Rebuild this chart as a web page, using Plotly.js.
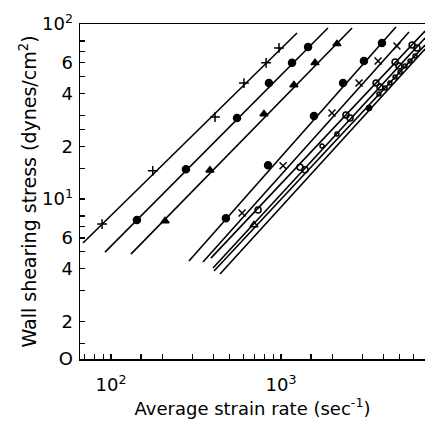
<!DOCTYPE html>
<html>
<head>
<meta charset="utf-8">
<script src="https://cdn.plot.ly/plotly-3.0.1.min.js"></script>
<style>html,body{margin:0;padding:0;background:#fff;}#chart{width:427px;height:421px;}</style>
</head>
<body>
<div id="chart"></div>
<script>
// ---- data (strain rate in sec^-1, stress in dynes/cm^2) ----
const seriesA_x = [88.6, 176, 409, 605, 817, 973];
const seriesA_y = [7.2, 14.5, 29.4, 46, 60, 73];
const fitA_x = [68.4, 1242];
const fitA_y = [5.61, 88.9];

const seriesB_x = [142, 276, 551, 849, 1161, 1443];
const seriesB_y = [7.6, 14.8, 29.0, 46, 60, 74];
const fitB_x = [92.2, 1888];
const fitB_y = [4.98, 94.9];

const seriesC_x = [208, 382, 794, 1191, 1585, 2133];
const seriesC_y = [7.5, 14.6, 30.6, 44.8, 60, 77];
const fitC_x = [131, 2618];
const fitC_y = [4.85, 94.9];

const seriesD_x = [474, 839, 1563, 2317, 3076, 3926];
const seriesD_y = [7.78, 15.6, 29.8, 46.0, 61.5, 77.8];
const fitD_x = [287.5, 4742];
const fitD_y = [4.43, 96.1];

const seriesE_x = [590, 1028, 1995, 2877, 3724, 4808];
const seriesE_y = [8.32, 15.5, 31.0, 46.0, 61.5, 74.8];
const fitE_x = [347.6, 5662];
const fitE_y = [4.37, 90.0];

const seriesF_x = [733, 1294, 2410, 3622, 4688, 5904];
const seriesF_y = [8.65, 15.2, 30.2, 46.0, 60.7, 75.9];
const fitF_x = [387, 7030];
const fitF_y = [4.6, 91.2];

const seriesG_x = [1383, 2547, 3819, 4946, 6310];
const seriesG_y = [14.7, 29.0, 43.6, 57.5, 72.9];
const seriesGtri_x = [693];
const seriesGtri_y = [7.1];
const fitG_x = [398, 7030];
const fitG_y = [4.04, 83.2];

const seriesH_x = [1742, 2133, 3767, 4093, 4375, 4688, 5012, 5361, 5741, 6138];
const seriesH_y = [20.1, 23.5, 39.8, 43.1, 46.0, 49.8, 53.2, 57.5, 61.5, 65.6];
const seriesHdot_x = [3296];
const seriesHdot_y = [33.1];
const fitH_x = [403.6, 7030];
const fitH_y = [3.88, 75.9];

const fitI_x = [437.7, 7030];
const fitI_y = [3.73, 71.9];

// axis ticks
const xTickVals = [70, 80, 90, 100, 150, 200, 300, 400, 500, 600, 700, 800, 900, 1000, 1500, 2000, 3000, 4000, 5000, 6000, 7000];
const xTickText = ['', '', '', '10<sup>2</sup>', '', '', '', '', '', '', '', '', '', '10<sup>3</sup>', '', '', '', '', '', '', ''];
const yTickVals = [1.22, 1.5, 2, 3, 4, 5, 6, 7, 8, 10, 15, 20, 25, 30, 40, 50, 60, 70, 80, 100];
const yTickText = ['O', '', '2', '', '4', '', '6', '', '', '10<sup>1</sup>', '', '2', '', '', '4', '', '6', '', '', '10<sup>2</sup>'];

const xLabel = 'Average strain rate (sec<sup>-1</sup>)';
const yLabel = 'Wall shearing stress (dynes/cm<sup>2</sup>)';

// ---- traces ----
const K = '#000';
function fit(x, y) {
  return {x: x, y: y, mode: 'lines', type: 'scatter', line: {color: K, width: 1.6}, hoverinfo: 'skip', showlegend: false};
}
function pts(x, y, symbol, size) {
  return {x: x, y: y, mode: 'markers', type: 'scatter', showlegend: false, hoverinfo: 'skip',
    marker: {symbol: symbol, size: size, color: K, line: {color: K, width: 1.5}}};
}
const traces = [
  fit(fitA_x, fitA_y), fit(fitB_x, fitB_y), fit(fitC_x, fitC_y), fit(fitD_x, fitD_y),
  fit(fitE_x, fitE_y), fit(fitF_x, fitF_y), fit(fitG_x, fitG_y), fit(fitH_x, fitH_y), fit(fitI_x, fitI_y),
  pts(seriesA_x, seriesA_y, 'cross-thin-open', 7),
  pts(seriesB_x, seriesB_y, 'circle', 7),
  pts(seriesC_x, seriesC_y, 'triangle-up', 7),
  pts(seriesD_x, seriesD_y, 'circle', 7),
  pts(seriesE_x, seriesE_y, 'x-thin-open', 7),
  pts(seriesF_x, seriesF_y, 'circle-open', 6),
  pts(seriesG_x, seriesG_y, 'circle-open', 6),
  pts(seriesGtri_x, seriesGtri_y, 'triangle-up-open', 7),
  pts(seriesH_x, seriesH_y, 'circle-open', 4),
  pts(seriesHdot_x, seriesHdot_y, 'circle', 5)
];

const font = {family: 'DejaVu Sans, sans-serif', color: K};
const layout = {
  width: 427, height: 421,
  margin: {l: 80, r: 2, t: 24, b: 62},
  paper_bgcolor: '#fff', plot_bgcolor: '#fff',
  showlegend: false,
  font: font,
  xaxis: {
    type: 'log', range: [1.8176, 3.847],
    tickmode: 'array', tickvals: xTickVals, ticktext: xTickText,
    ticks: 'inside', ticklen: 5, tickwidth: 1.2, tickcolor: K,
    showline: true, linecolor: K, linewidth: 1.5, mirror: true,
    showgrid: false, zeroline: false,
    tickfont: {family: font.family, size: 18, color: K},
    ticklabelstandoff: 9,
    title: {text: xLabel, font: {family: font.family, size: 18, color: K}, standoff: 5}
  },
  yaxis: {
    type: 'log', range: [0.0864, 2],
    tickmode: 'array', tickvals: yTickVals, ticktext: yTickText,
    ticks: 'inside', ticklen: 5, tickwidth: 1.2, tickcolor: K,
    showline: true, linecolor: K, linewidth: 1.5, mirror: false,
    showgrid: false, zeroline: false,
    tickfont: {family: font.family, size: 18, color: K},
    ticklabelstandoff: 2,
    title: {text: yLabel, font: {family: font.family, size: 19, color: K}, standoff: 0}
  }
};
Plotly.newPlot('chart', traces, layout, {displayModeBar: false, staticPlot: true});
</script>
</body>
</html>
